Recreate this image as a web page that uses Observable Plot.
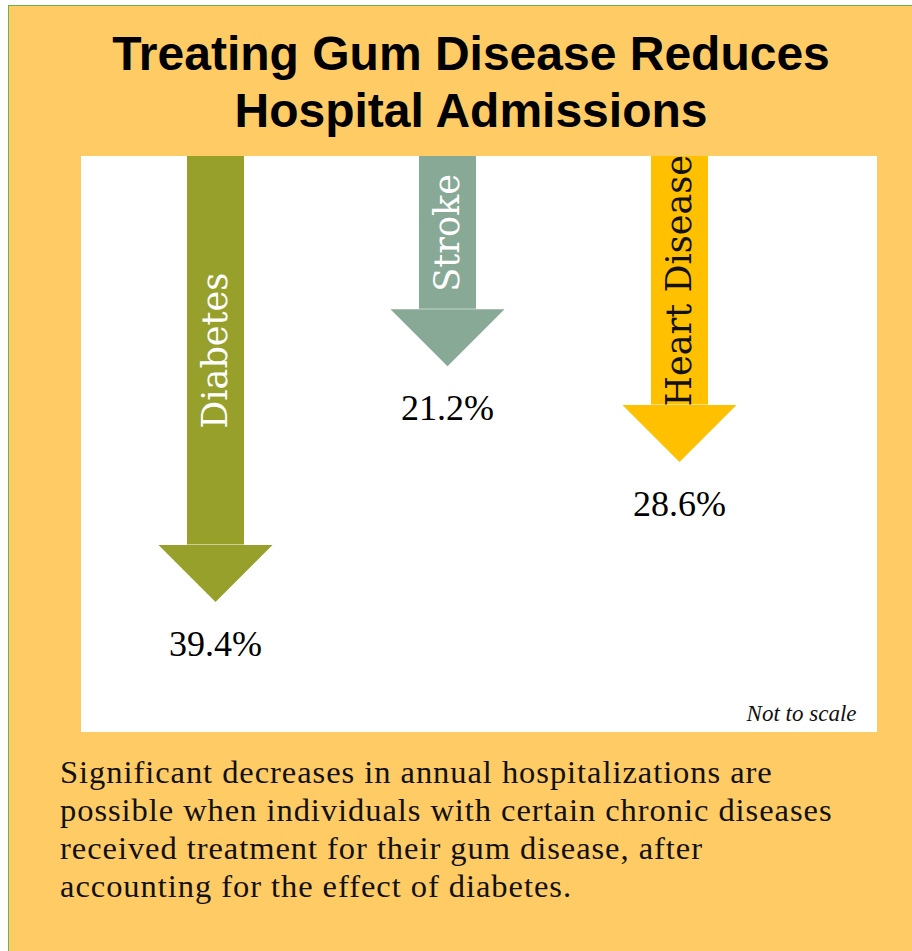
<!DOCTYPE html>
<html>
<head>
<meta charset="utf-8">
<script src="https://cdn.jsdelivr.net/npm/d3@7"></script>
<script src="https://cdn.jsdelivr.net/npm/@observablehq/plot@0.6"></script>
<style>
  html, body { margin: 0; padding: 0; width: 912px; height: 951px; overflow: hidden; background: #ffffff; }
  #page { position: absolute; left: 8px; top: 5px; width: 960px; height: 1000px; background: #FFCB65; border-left: 1.5px solid #6DB04C; border-top: 1.5px solid #6DB04C; box-sizing: border-box; }
  #title { position: absolute; left: 0; top: 26px; width: 942px; margin: 0; text-align: center; font: bold 48px/56.5px "Liberation Sans", Arial, sans-serif; color: #000; }
  #panel { position: absolute; left: 81px; top: 156px; width: 796px; height: 576px; background: #fff; }
  #panel svg { display: block; }
  #caption { position: absolute; left: 60px; top: 753px; margin: 0; font: 32.5px/38px "Liberation Serif", "Times New Roman", serif; letter-spacing: 0.95px; color: #111; white-space: nowrap; }
</style>
</head>
<body>
<div id="page"></div>
<h1 id="title">Treating Gum Disease Reduces<br>Hospital Admissions</h1>
<div id="panel"></div>
<p id="caption">Significant decreases in annual hospitalizations are<br>possible when individuals with certain chronic diseases<br>received treatment for their gum disease, after<br>accounting for the effect of diabetes.</p>
<script>
// ---- data ----
const categories = ["Diabetes", "Stroke", "Heart Disease"];
const reductions = [39.4, 21.2, 28.6];
const palette = ["#97A02B", "#87A995", "#FFC000"];
const note = ["Not to scale"];

const data = categories.map((category, i) => ({ category, value: reductions[i] }));
const yMin = 5;            // axis is truncated ("not to scale")
const headLength = 57;     // px
const shaftWidth = 57;     // px

const arrowHead = {
  draw(context, size) {
    const s = Math.sqrt(size / Math.PI);
    context.moveTo(-s, -s);
    context.lineTo(s, -s);
    context.lineTo(0, 0);
    context.closePath();
  }
};
const colorOf = d => palette[categories.indexOf(d.category)];
const isLight = d => d3.lab(colorOf(d)).l > 75;
const labelFont = "'DejaVu Serif', Cambria, Georgia, serif";
const bodyFont = "'Liberation Serif', 'Times New Roman', serif";

const chart = Plot.plot({
  width: 796,
  height: 576,
  margin: 0,
  style: { background: "#ffffff", overflow: "hidden" },
  x: { type: "point", domain: categories, range: [133.5, 597.5], padding: 0, axis: null },
  y: { domain: [yMin, 45], range: [0, 518], axis: null },
  color: { domain: categories, range: palette },
  marks: [
    Plot.ruleX(data, { x: "category", y1: yMin, y2: "value", stroke: "category", strokeWidth: shaftWidth, insetBottom: headLength }),
    Plot.dot(data, { x: "category", y: "value", r: headLength, symbol: arrowHead, fill: "category", stroke: "none" }),
    Plot.text(data, { filter: d => !isLight(d), x: "category", y: d => (yMin + d.value) / 2, dy: -headLength / 2, text: "category", rotate: -90, fill: "#ffffff", fontSize: 35, fontFamily: labelFont }),
    Plot.text(data, { filter: d => isLight(d), x: "category", y: d => (yMin + d.value) / 2, dy: -headLength / 2, text: "category", rotate: -90, fill: "#111111", fontSize: 35, fontFamily: labelFont }),
    Plot.text(data, { x: "category", y: "value", text: d => d.value.toFixed(1) + "%", lineAnchor: "top", dy: 28, fontSize: 36, fontFamily: bodyFont, fill: "#000000" }),
    Plot.text(note, { text: d => d, frameAnchor: "bottom-right", dx: -21, dy: -12, fontSize: 23, fontStyle: "italic", fontFamily: bodyFont, fill: "#111111" })
  ]
});
document.getElementById("panel").appendChild(chart);
</script>
</body>
</html>
